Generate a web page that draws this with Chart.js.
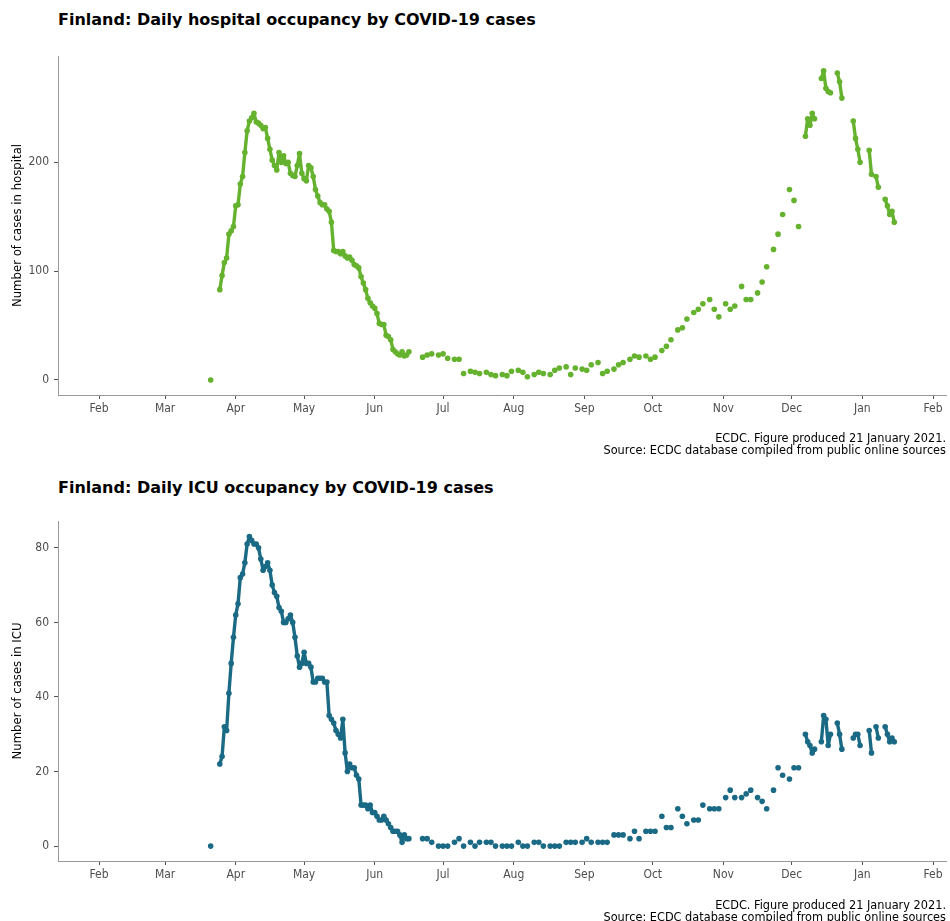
<!DOCTYPE html>
<html>
<head>
<meta charset="utf-8">
<script src="https://cdn.jsdelivr.net/npm/chart.js@4.4.1/dist/chart.umd.min.js"></script>
<style>
  body { margin: 0; background: #fff; width: 950px; height: 921px; overflow: hidden; position: relative; }
  .titulo { position: absolute; left: 58px; font: bold 16px "DejaVu Sans", sans-serif; color: #000; white-space: nowrap; }
  .nota { position: absolute; right: 4px; text-align: right; font: 12.6px "DejaVu Sans Condensed", "Liberation Sans Narrow", "DejaVu Sans", sans-serif; line-height: 12px; color: #000; white-space: nowrap; }
  .caja { position: absolute; left: 0; }
</style>
</head>
<body>
<div class="titulo" style="top:10px">Finland: Daily hospital occupancy by COVID-19 cases</div>
<div class="caja" style="top:0px"><canvas id="graficoHospital" width="950" height="465"></canvas></div>
<div class="nota" style="top:432px">ECDC. Figure produced 21 January 2021.<br>Source: ECDC database compiled from public online sources</div>

<div class="titulo" style="top:478px">Finland: Daily ICU occupancy by COVID-19 cases</div>
<div class="caja" style="top:465px"><canvas id="graficoUci" width="950" height="456"></canvas></div>
<div class="nota" style="top:899px">ECDC. Figure produced 21 January 2021.<br>Source: ECDC database compiled from public online sources</div>

<script>
// dias contados desde el 1 de enero de 2020 (0 = 1 ene 2020)
const dias = [
    80,
    84, 85, 86, 87, 88, 89, 90, 91, 92, 93,
    94, 95, 96, 97, 98, 99, 100, 101, 102, 103,
    104, 105, 106, 107, 108, 109, 110, 111, 112, 113,
    114, 115, 116, 117, 118, 119, 120, 121, 122, 123,
    124, 125, 126, 127, 128, 129, 130, 131, 132, 133,
    134, 135, 136, 137, 138, 139, 140, 141, 142, 143,
    144, 145, 146, 147, 148, 149, 150, 151, 152, 153,
    154, 155, 156, 157, 158, 159, 160, 161, 162, 163,
    164, 165, 166, 167,
    173, 175, 177, 180, 182, 184, 187, 189, 191, 194, 196, 198,
    201, 203, 205, 208, 210, 212, 215, 217, 219, 222, 224, 226,
    229, 231, 233, 236, 238, 240, 243, 245, 247, 250, 252, 254,
    257, 259, 261, 264, 266, 268, 271, 273, 275, 278, 280, 282,
    285, 287, 289, 292, 294, 296, 299, 301, 303, 306, 308, 310,
    313, 315, 317, 320, 322, 324, 327, 329, 331, 334, 336, 338,
    341, 342, 343, 344, 345, 348, 349, 350, 351, 352,
    355, 356, 357, 362, 363, 364, 365, 369, 370, 372, 373,
    376, 377, 378, 379, 380,
];

const hospital = [
    0,
    83, 96, 108, 112, 134, 137, 141, 160, 161, 180,
    187, 209, 229, 238, 241, 245, 237, 236, 234, 231,
    232, 222, 212, 202, 197, 193, 209, 200, 206, 199,
    200, 190, 188, 187, 197, 208, 190, 185, 183, 197,
    195, 187, 175, 169, 163, 161, 161, 157, 155, 145,
    119, 118, 118, 116, 118, 114, 112, 113, 110, 106,
    105, 103, 95, 89, 83, 75, 71, 68, 66, 61,
    52, 51, 51, 41, 40, 37, 28, 26, 24, 23,
    26, 22, 23, 26,
    21, 23, 24, 23, 24, 20, 19, 19, 6, 8, 7, 6,
    7, 5, 4, 5, 4, 8, 9, 7, 3, 5, 7, 6,
    5, 9, 11, 12, 5, 11, 10, 9, 14, 16, 6, 8,
    10, 14, 16, 19, 22, 21, 22, 19, 21, 27, 31, 37,
    46, 48, 56, 62, 65, 70, 74, 65, 58, 70, 65, 68,
    86, 74, 74, 80, 90, 104, 120, 134, 152, 175, 165, 141,
    224, 240, 234, 245, 240, 277, 284, 268, 265, 264,
    282, 274, 259, 238, 222, 212, 200, 211, 189, 187, 177,
    166, 160, 152, 155, 145,
];

const uci = [
    0,
    22, 24, 32, 31, 41, 49, 56, 62, 65, 72,
    73, 76, 81, 83, 82, 81, 81, 80, 77, 74,
    75, 76, 74, 70, 68, 67, 64, 63, 60, 60,
    61, 62, 60, 56, 51, 48, 49, 52, 49, 49,
    48, 44, 44, 45, 45, 45, 44, 44, 35, 34,
    33, 31, 30, 29, 34, 25, 20, 22, 21, 21,
    19, 18, 11, 11, 11, 10, 11, 9, 9, 8,
    7, 7, 8, 7, 6, 5, 4, 4, 4, 3,
    1, 3, 2, 2,
    2, 2, 1, 0, 0, 0, 1, 2, 0, 1, 0, 1,
    1, 1, 0, 0, 0, 0, 1, 0, 0, 1, 1, 0,
    0, 0, 0, 1, 1, 1, 1, 2, 1, 1, 1, 1,
    3, 3, 3, 2, 4, 2, 4, 4, 4, 8, 5, 5,
    10, 8, 6, 7, 7, 11, 10, 10, 10, 13, 15, 13,
    13, 14, 15, 13, 12, 10, 15, 21, 19, 18, 21, 21,
    30, 28, 27, 25, 26, 28, 35, 34, 27, 30,
    33, 30, 26, 29, 30, 30, 27, 31, 25, 32, 29,
    32, 30, 28, 29, 28,
];

// inicio de cada mes, de feb 2020 a feb 2021
const inicioMes = [31, 60, 91, 121, 152, 182, 213, 244, 274, 305, 335, 366, 397];
const etiquetasMes = ["Feb", "Mar", "Apr", "May", "Jun", "Jul", "Aug", "Sep", "Oct", "Nov", "Dec", "Jan", "Feb"];

const ticksHospital = [0, 100, 200];
const ticksUci = [0, 20, 40, 60, 80];

const fuenteEje = "'DejaVu Sans Condensed', 'Liberation Sans Narrow', 'DejaVu Sans', sans-serif";

// arma los puntos y corta la línea cuando falta algún día
function puntos(valores) {
    const salida = [];
    dias.forEach((dia, i) => {
        if (i > 0 && dia - dias[i - 1] > 1) {
            salida.push({ x: dias[i - 1] + 1, y: null });
        }
        salida.push({ x: dia, y: valores[i] });
    });
    return salida;
}

function configurar(valores, color, tituloY, ticksY, minY, maxY, altoX) {
    return {
        type: "line",
        data: {
            datasets: [
                {
                    data: puntos(valores),
                    borderColor: color,
                    backgroundColor: color,
                    borderWidth: 3.4,
                    borderJoinStyle: "round",
                    borderCapStyle: "round",
                    pointRadius: 2.8,
                    pointBorderWidth: 0,
                    pointBackgroundColor: color,
                    spanGaps: false,
                    tension: 0,
                },
            ],
        },
        options: {
            responsive: false,
            animation: false,
            devicePixelRatio: 1,
            layout: { padding: { top: 56, right: 4, left: 0, bottom: 0 } },
            plugins: {
                legend: { display: false },
                tooltip: { enabled: false },
            },
            scales: {
                x: {
                    type: "linear",
                    min: 13,
                    max: 402.7,
                    afterBuildTicks: (escala) => {
                        escala.ticks = inicioMes.map((v) => ({ value: v }));
                    },
                    afterFit: (escala) => {
                        escala.height = altoX;
                    },
                    ticks: {
                        autoSkip: false,
                        maxRotation: 0,
                        padding: 3,
                        color: "#4d4d4d",
                        font: { family: fuenteEje, size: 12 },
                        callback: (valor, i) => etiquetasMes[i],
                    },
                    grid: {
                        drawOnChartArea: false,
                        drawTicks: true,
                        tickLength: 4,
                        color: "#555",
                    },
                    border: { display: true, color: "#999", width: 1 },
                },
                y: {
                    type: "linear",
                    min: minY,
                    max: maxY,
                    afterBuildTicks: (escala) => {
                        escala.ticks = ticksY.map((v) => ({ value: v }));
                    },
                    afterFit: (escala) => {
                        escala.width = 58;
                    },
                    ticks: {
                        padding: 5,
                        color: "#4d4d4d",
                        font: { family: fuenteEje, size: 12 },
                    },
                    grid: {
                        drawOnChartArea: false,
                        drawTicks: true,
                        tickLength: 4,
                        color: "#555",
                    },
                    border: { display: true, color: "#999", width: 1 },
                    title: {
                        display: true,
                        text: tituloY,
                        color: "#000",
                        padding: { top: 10, bottom: 0 },
                        font: { family: fuenteEje, size: 13 },
                    },
                },
            },
        },
    };
}

const graficoHospital = new Chart(
    document.getElementById("graficoHospital"),
    configurar(hospital, "rgb(101,178,46)", "Number of cases in hospital", ticksHospital, -13.8, 297.7, 70)
);

const graficoUci = new Chart(
    document.getElementById("graficoUci"),
    configurar(uci, "rgb(26,106,133)", "Number of cases in ICU", ticksUci, -4, 87.2, 60)
);
</script>
</body>
</html>
